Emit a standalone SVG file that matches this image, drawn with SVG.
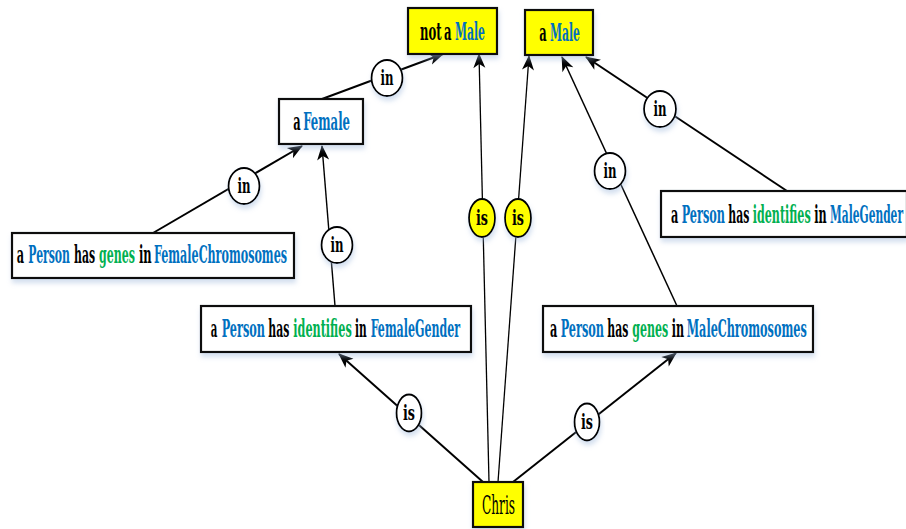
<svg xmlns="http://www.w3.org/2000/svg" width="906" height="529" viewBox="0 0 906 529">
<defs>
<filter id="sh" x="-20%" y="-30%" width="140%" height="170%">
<feDropShadow dx="1" dy="4" stdDeviation="2.5" flood-color="#9db7dc" flood-opacity="0.45"/>
</filter>
<marker id="ah" markerUnits="userSpaceOnUse" markerWidth="16" markerHeight="12" refX="14" refY="6" orient="auto" overflow="visible">
<path d="M0,0 L15,6 L0,12 L4,6 Z" fill="#000"/>
</marker>
<style>
.box{stroke:#111;stroke-width:2.2;filter:url(#sh)}
.w{fill:#fff}
.y{fill:#ffff00}
text{font-family:'DejaVu Serif Condensed','DejaVu Serif',serif;font-stretch:condensed}
.t{font-weight:bold;font-size:24px;fill:#000}
.c{font-size:26px;fill:#000}
.b{fill:#0070c0}
.g{fill:#00b050}
.e{stroke:#000;fill:none;marker-end:url(#ah)}
.lab{stroke:#000;stroke-width:1.8;filter:url(#sh)}
.lt{font-weight:bold;font-size:20px;fill:#000;text-anchor:middle}
</style>
</defs>
<g id="connectors">
<path class="e" stroke-width="2" d="M322,99 L443,54"/>
<path class="e" stroke-width="2" d="M153,233 L302,146"/>
<path class="e" stroke-width="1.4" d="M335,306 L322,146"/>
<path class="e" stroke-width="1.3" d="M489,482 L479,54"/>
<path class="e" stroke-width="1.3" d="M498,482 L529,56"/>
<path class="e" stroke-width="1.5" d="M677,306 L562,57"/>
<path class="e" stroke-width="2" d="M787,191 L586,57"/>
<path class="e" stroke-width="2" d="M483,482 L339,354"/>
<path class="e" stroke-width="2" d="M513,482 L676,353"/>
</g>
<g id="labels">
<g id="l1"><ellipse class="lab w" cx="387" cy="78" rx="15.5" ry="18"/><text class="lt" x="387" y="85" textLength="13" lengthAdjust="spacingAndGlyphs">in</text></g>
<g id="l2"><ellipse class="lab w" cx="244" cy="186" rx="15.5" ry="18"/><text class="lt" x="244" y="193" textLength="13" lengthAdjust="spacingAndGlyphs">in</text></g>
<g id="l3"><ellipse class="lab w" cx="337" cy="245" rx="15.5" ry="18"/><text class="lt" x="337" y="252" textLength="13" lengthAdjust="spacingAndGlyphs">in</text></g>
<g id="l4"><ellipse class="lab y" cx="482" cy="218" rx="13" ry="19"/><text class="lt" x="482" y="225" textLength="12" lengthAdjust="spacingAndGlyphs">is</text></g>
<g id="l5"><ellipse class="lab y" cx="518" cy="218" rx="13" ry="19"/><text class="lt" x="518" y="225" textLength="12" lengthAdjust="spacingAndGlyphs">is</text></g>
<g id="l6"><ellipse class="lab w" cx="610" cy="171" rx="15.5" ry="18"/><text class="lt" x="610" y="178" textLength="13" lengthAdjust="spacingAndGlyphs">in</text></g>
<g id="l7"><ellipse class="lab w" cx="660" cy="109" rx="16" ry="18"/><text class="lt" x="660" y="116" textLength="13" lengthAdjust="spacingAndGlyphs">in</text></g>
<g id="l8"><ellipse class="lab w" cx="409" cy="413" rx="12.5" ry="18.5"/><text class="lt" x="409" y="420" textLength="12" lengthAdjust="spacingAndGlyphs">is</text></g>
<g id="l9"><ellipse class="lab w" cx="587" cy="422" rx="12.5" ry="18.5"/><text class="lt" x="587" y="429" textLength="12" lengthAdjust="spacingAndGlyphs">is</text></g>
</g>
<g id="notMale"><rect class="box y" x="408" y="8" width="89" height="46"/>
<text class="t" x="420" y="40" textLength="21.5" lengthAdjust="spacingAndGlyphs">not</text>
<text class="t" x="444" y="40" textLength="7.5" lengthAdjust="spacingAndGlyphs">a</text>
<text class="t b" x="455" y="40" textLength="30" lengthAdjust="spacingAndGlyphs">Male</text></g>
<g id="aMale"><rect class="box y" x="525" y="10" width="68" height="45"/>
<text class="t" x="539.3" y="41" textLength="7.4" lengthAdjust="spacingAndGlyphs">a</text>
<text class="t b" x="550" y="41" textLength="30" lengthAdjust="spacingAndGlyphs">Male</text></g>
<g id="aFemale"><rect class="box w" x="279" y="99" width="84" height="45"/>
<text class="t" x="293.3" y="130" textLength="7.4" lengthAdjust="spacingAndGlyphs">a</text>
<text class="t b" x="303.3" y="130" textLength="46.7" lengthAdjust="spacingAndGlyphs">Female</text></g>
<g id="genesFemale"><rect class="box w" x="12" y="233" width="282" height="45"/>
<text class="t" x="16.7" y="263" textLength="7.3" lengthAdjust="spacingAndGlyphs">a</text>
<text class="t b" x="28.3" y="263" textLength="41.7" lengthAdjust="spacingAndGlyphs">Person</text>
<text class="t" x="74" y="263" textLength="21" lengthAdjust="spacingAndGlyphs">has</text>
<text class="t g" x="99" y="263" textLength="36" lengthAdjust="spacingAndGlyphs">genes</text>
<text class="t" x="139" y="263" textLength="12.7" lengthAdjust="spacingAndGlyphs">in</text>
<text class="t b" x="154" y="263" textLength="133" lengthAdjust="spacingAndGlyphs">FemaleChromosomes</text></g>
<g id="identMale"><rect class="box w" x="661" y="191" width="246" height="46"/>
<text class="t" x="671" y="223" textLength="7.3" lengthAdjust="spacingAndGlyphs">a</text>
<text class="t b" x="681.7" y="223" textLength="43.3" lengthAdjust="spacingAndGlyphs">Person</text>
<text class="t" x="728.3" y="223" textLength="21" lengthAdjust="spacingAndGlyphs">has</text>
<text class="t g" x="752.7" y="223" textLength="58" lengthAdjust="spacingAndGlyphs">identifies</text>
<text class="t" x="814.3" y="223" textLength="12.4" lengthAdjust="spacingAndGlyphs">in</text>
<text class="t b" x="830" y="223" textLength="73" lengthAdjust="spacingAndGlyphs">MaleGender</text></g>
<g id="identFemale"><rect class="box w" x="201" y="306" width="270" height="46"/>
<text class="t" x="210.7" y="337" textLength="6.6" lengthAdjust="spacingAndGlyphs">a</text>
<text class="t b" x="221.7" y="337" textLength="43.3" lengthAdjust="spacingAndGlyphs">Person</text>
<text class="t" x="268.3" y="337" textLength="21" lengthAdjust="spacingAndGlyphs">has</text>
<text class="t g" x="293.3" y="337" textLength="58.4" lengthAdjust="spacingAndGlyphs">identifies</text>
<text class="t" x="355" y="337" textLength="11.7" lengthAdjust="spacingAndGlyphs">in</text>
<text class="t b" x="370.7" y="337" textLength="89.3" lengthAdjust="spacingAndGlyphs">FemaleGender</text></g>
<g id="genesMale"><rect class="box w" x="543" y="306" width="270" height="46"/>
<text class="t" x="550" y="337" textLength="7.3" lengthAdjust="spacingAndGlyphs">a</text>
<text class="t b" x="560.7" y="337" textLength="43.3" lengthAdjust="spacingAndGlyphs">Person</text>
<text class="t" x="607.3" y="337" textLength="21" lengthAdjust="spacingAndGlyphs">has</text>
<text class="t g" x="632.3" y="337" textLength="36" lengthAdjust="spacingAndGlyphs">genes</text>
<text class="t" x="671.7" y="337" textLength="12.3" lengthAdjust="spacingAndGlyphs">in</text>
<text class="t b" x="686.7" y="337" textLength="120" lengthAdjust="spacingAndGlyphs">MaleChromosomes</text></g>
<g id="chris"><rect class="box y" x="473" y="482" width="50" height="45"/>
<text class="c" x="482" y="514" textLength="33" lengthAdjust="spacingAndGlyphs">Chris</text></g>
</svg>
